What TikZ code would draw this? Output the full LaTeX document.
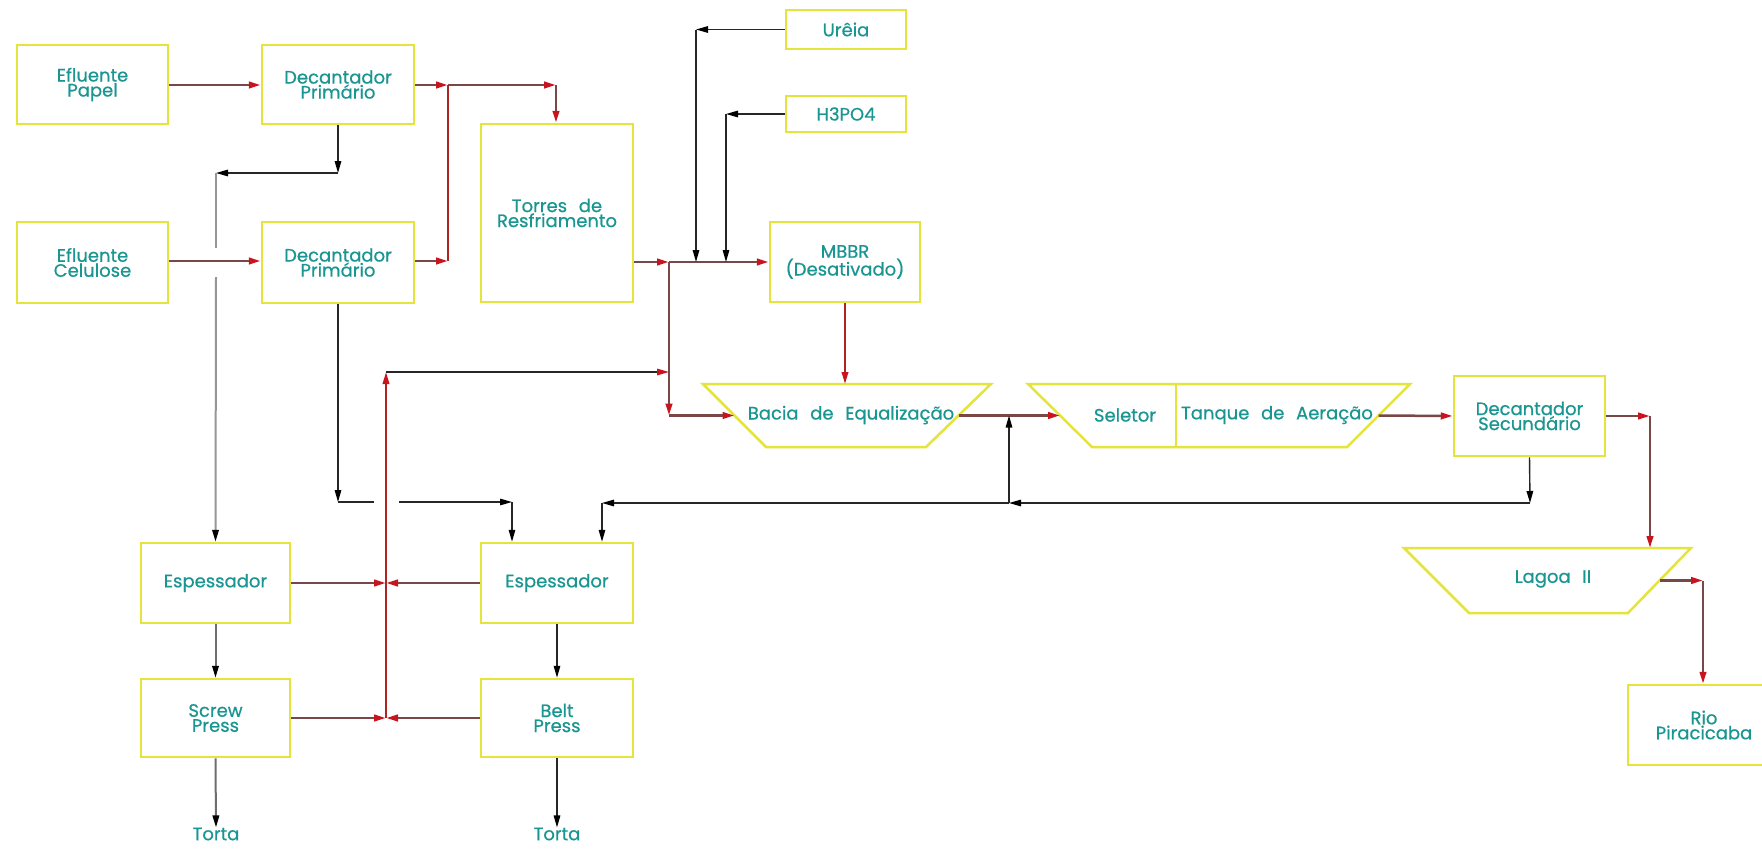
\documentclass[tikz,border=0pt]{standalone}
\usepackage{fontspec}
\setmainfont{Poppins}[FakeBold=0.6]
\usetikzlibrary{arrows.meta}
\definecolor{boxy}{RGB}{228,228,60}
\definecolor{txt}{RGB}{25,150,145}
\definecolor{flowc}{RGB}{120,72,72}
\definecolor{redl}{RGB}{175,35,35}
\definecolor{tipr}{RGB}{200,20,30}
\definecolor{grayl}{RGB}{150,150,150}
\definecolor{dgray}{RGB}{110,110,110}
\newcommand{\wsp}{\hspace{0.65em}}
\begin{document}
\begin{tikzpicture}[x=1pt,y=-1pt,
  lbl/.style={text=txt,font=\fontsize{18}{15}\selectfont,align=center,inner sep=0pt},
  box/.style={lbl,draw=boxy,line width=2.5pt},
  trapline/.style={draw=boxy,line width=2.5pt,line join=miter},
  rtip/.style={-{Triangle[length=12pt,width=6.5pt,color=tipr]}},
  btip/.style={-{Triangle[length=12pt,width=6.5pt,color=black]}},
  flow/.style={draw=flowc,line width=2.5pt,rtip},
  redup/.style={draw=redl,line width=2pt,rtip},
  redln/.style={draw=redl,line width=2pt},
  blk/.style={draw=black!85,line width=1.4pt,btip},
  blkln/.style={draw=black!85,line width=1.4pt},
  blkr/.style={draw=black!85,line width=1.4pt,rtip},
  gry/.style={draw=grayl,line width=2pt},
  gryb/.style={draw=grayl,line width=2pt,btip},
  dgry/.style={draw=dgray,line width=2pt,btip}
]
\useasboundingbox (0,0) rectangle (1762,854);
\fill[white] (0,0) rectangle (1762,854);

% nodes
\node[box,minimum width=151pt,minimum height=79pt] (papel) at (92.5,84.5) {Efluente\\Papel};
\node[box,minimum width=152pt,minimum height=79pt] (dec1) at (338,84.5) {Decantador\\Primário};
\node[box,minimum width=151pt,minimum height=81pt] (cel) at (92.5,262.5) {Efluente\\Celulose};
\node[box,minimum width=152pt,minimum height=81pt] (dec2) at (338,262.5) {Decantador\\Primário};
\node[box,minimum width=152pt,minimum height=178pt] (torres) at (557,213) {Torres\wsp de\\Resfriamento};
\node[box,minimum width=120pt,minimum height=39pt] (ureia) at (846,29.5) {Urêia};
\node[box,minimum width=120pt,minimum height=36pt] (h3po4) at (846,114) {H3PO4};
\node[box,minimum width=150pt,minimum height=80pt] (mbbr) at (845,262) {MBBR\\(Desativado)};

% trapezoid tanks
\draw[trapline] (703,384) -- (991,384) -- (926,447) -- (766,447) -- cycle;
\coordinate (bacia-w) at (734.5,415.5);
\coordinate (bacia-e) at (958.5,415.5);
\coordinate (bacia-n) at (845,384);
\node[lbl] (baciat) at (851,415) {Bacia\wsp de\wsp Equalização};

\draw[trapline] (1028,384) -- (1410,384) -- (1347,447) -- (1092,447) -- cycle;
\draw[trapline] (1176,384) -- (1176,447);
\coordinate (seltan-w) at (1060,415.5);
\coordinate (seltan-e) at (1378.5,415.5);
\node[lbl] (selt) at (1125,415) {Seletor};
\node[lbl] (tanq) at (1277,415) {Tanque\wsp de\wsp Aeração};

\node[box,minimum width=151pt,minimum height=80pt] (decsec) at (1529.5,416) {Decantador\\Secundário};

\draw[trapline] (1404,548) -- (1691,548) -- (1628,613) -- (1469,613) -- cycle;
\coordinate (lagoa-n) at (1650,548);
\coordinate (lagoa-e) at (1659.5,580.5);
\node[lbl] (lagoat) at (1553,579) {Lagoa\wsp II};

\node[box,minimum width=152pt,minimum height=80pt] (rio) at (1704,725) {Rio\\Piracicaba};
\node[box,minimum width=149pt,minimum height=80pt] (esp1) at (215.5,583) {Espessador};
\node[box,minimum width=149pt,minimum height=78pt] (screw) at (215.5,718) {Screw\\Press};
\node[box,minimum width=152pt,minimum height=80pt] (esp2) at (557,583) {Espessador};
\node[box,minimum width=152pt,minimum height=78pt] (belt) at (557,718) {Belt\\Press};
\node[lbl] (torta1) at (216,834) {Torta};
\node[lbl] (torta2) at (557,834) {Torta};

% junction coordinates
\coordinate (j1) at (448,85);
\coordinate (j1b) at (556,85);
\coordinate (j2) at (448,261);
\coordinate (jt) at (669,262);
\coordinate (jt2) at (669,415.5);
\coordinate (jt3) at (669,372);
\coordinate (u1) at (696,29.5);
\coordinate (u2) at (696,262);
\coordinate (h1) at (726,114);
\coordinate (h2) at (726,262);
\coordinate (a1) at (338,173);
\coordinate (a2) at (216,173);
\coordinate (g1) at (216,248);
\coordinate (g2) at (216,277);
\coordinate (b1) at (338,502);
\coordinate (b2) at (374,502);
\coordinate (b3) at (399,502);
\coordinate (b4) at (512,502);
\coordinate (c1) at (1530,503);
\coordinate (c2) at (1009,503);
\coordinate (c3) at (1009,415.5);
\coordinate (c4) at (602,503);
\coordinate (r1) at (386,583);
\coordinate (r2) at (386,718);
\coordinate (r3) at (386,372);
\coordinate (d1) at (1650,416);
\coordinate (e1) at (1703,580.5);

% main flow
\draw[flow] (papel.east |- j1) -- (dec1.west |- j1);
\draw[flow] (dec1.east |- j1) -- (j1);
\draw[flow] (j1) -- (j1b);
\draw[flow] (j1b) -- (j1b |- torres.north);
\draw[flow] (cel.east |- j2) -- (dec2.west |- j2);
\draw[flow] (dec2.east |- j2) -- (j2);
\draw[redln] (j2) -- (j1);
\draw[flow] (torres.east |- jt) -- (jt);
\draw[flow] (jt) -- (mbbr.west);
\draw[blk] (ureia.west) -- (u1);
\draw[blk] (u1) -- (u2);
\draw[blk] (h3po4.west) -- (h1);
\draw[blk] (h1) -- (h2);
\draw[flow] (jt) -- (jt2);
\draw[flow] (jt2) -- (bacia-w);
\draw[redup] (mbbr.south) -- (mbbr.south |- bacia-n);
\draw[flow] (bacia-e) -- (seltan-w);
\draw[flow] (seltan-e) -- (decsec.west);
\draw[flow] (decsec.east) -- (d1);
\draw[flow] (d1) -- (lagoa-n);
\draw[flow] (lagoa-e) -- (e1);
\draw[flow] (e1) -- (e1 |- rio.north);

% sludge lines
\draw[blk] (dec1.south) -- (a1);
\draw[blk] (a1) -- (a2);
\draw[gry] (a2) -- (g1);
\draw[gryb] (g2) -- (esp1.north);
\draw[blk] (dec2.south) -- (b1);
\draw[blkln] (b1) -- (b2);
\draw[blk] (b3) -- (b4);
\draw[blk] (b4) -- (b4 |- esp2.north);
\draw[blk] (decsec.south) -- (c1);
\draw[blk] (c1) -- (c2);
\draw[blk] (c2) -- (c3);
\draw[blk] (c2) -- (c4);
\draw[blk] (c4) -- (c4 |- esp2.north);
\draw[dgry] (esp1.south) -- (screw.north);
\draw[dgry] (screw.south) -- (torta1.north);
\draw[blk] (esp2.south) -- (belt.north);
\draw[blk] (belt.south) -- (torta2.north);

% recycle
\draw[flow] (esp1.east) -- (r1);
\draw[flow] (esp2.west) -- (r1);
\draw[flow] (screw.east) -- (r2);
\draw[flow] (belt.west) -- (r2);
\draw[redup] (r2) -- (r3);
\draw[blkr] (r3) -- (jt3);
\end{tikzpicture}
\end{document}
